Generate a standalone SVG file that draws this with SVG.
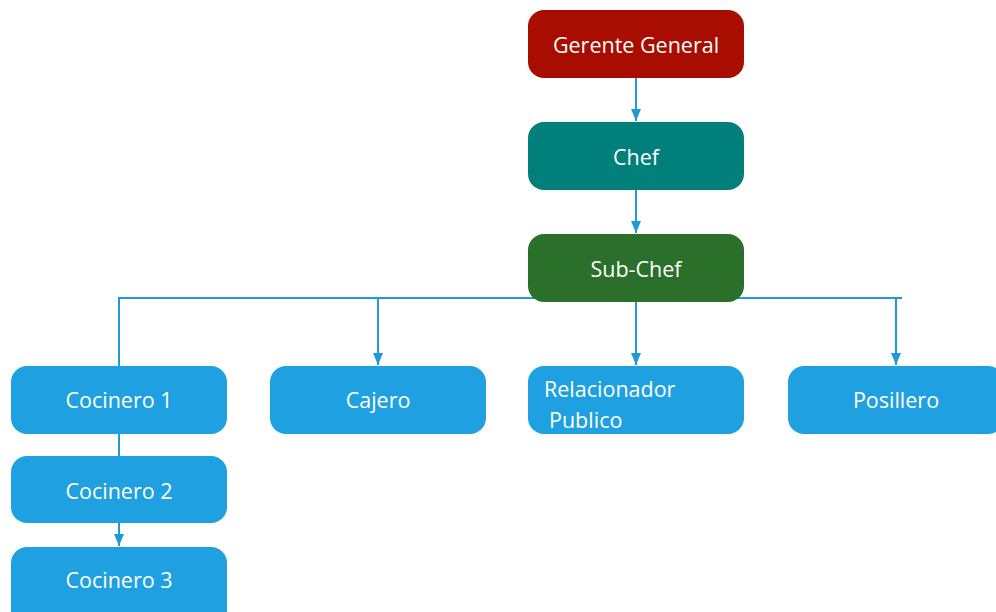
<svg xmlns="http://www.w3.org/2000/svg" width="996" height="612" viewBox="0 0 996 612">
<defs>
<style>
.box{stroke:none}
.t{font-family:"Open Sans","Noto Sans","Liberation Sans",sans-serif;font-size:21.5px;fill:#ffffff;text-anchor:middle;dominant-baseline:central}
.tl{font-family:"Open Sans","Noto Sans","Liberation Sans",sans-serif;font-size:21.5px;fill:#ffffff}
.c{stroke:#1e9ad6;stroke-width:2;fill:none}
</style>
<marker id="ah" markerWidth="12" markerHeight="12" viewBox="0 0 12 12" refX="12" refY="6" orient="auto" markerUnits="userSpaceOnUse">
<path d="M0,1 L12,6 L0,11 Z" fill="#1e9ad6"/>
</marker>
</defs>
<rect width="996" height="612" fill="#ffffff"/>
<g id="connectors">
<line class="c" x1="636" y1="78" x2="636" y2="121" marker-end="url(#ah)"/>
<line class="c" x1="636" y1="190" x2="636" y2="233" marker-end="url(#ah)"/>
<polyline class="c" points="119,366 119,298 902,298"/>
<line class="c" x1="378" y1="298" x2="378" y2="365" marker-end="url(#ah)"/>
<line class="c" x1="636" y1="302" x2="636" y2="365" marker-end="url(#ah)"/>
<line class="c" x1="896" y1="298" x2="896" y2="365" marker-end="url(#ah)"/>
<line class="c" x1="119" y1="434" x2="119" y2="456"/>
<line class="c" x1="119" y1="523" x2="119" y2="546" marker-end="url(#ah)"/>
</g>
<g id="gerente"><rect class="box" x="528" y="10" width="216" height="68" rx="16" fill="#a80d00"/><text class="t" x="636" y="44">Gerente General</text></g>
<g id="chef"><rect class="box" x="528" y="122" width="216" height="68" rx="16" fill="#017f7a"/><text class="t" x="636" y="156">Chef</text></g>
<g id="subchef"><rect class="box" x="528" y="234" width="216" height="68" rx="16" fill="#2a702a"/><text class="t" x="636" y="268">Sub-Chef</text></g>
<g id="cocinero1"><rect class="box" x="11" y="366" width="216" height="68" rx="16" fill="#1fa0e0"/><text class="t" x="119" y="399">Cocinero 1</text></g>
<g id="cajero"><rect class="box" x="270" y="366" width="216" height="68" rx="16" fill="#1fa0e0"/><text class="t" x="378" y="399">Cajero</text></g>
<g id="relacionador"><rect class="box" x="528" y="366" width="216" height="68" rx="16" fill="#1fa0e0"/><text class="tl" x="544" y="397">Relacionador</text><text class="tl" x="549" y="428">Publico</text></g>
<g id="posillero"><rect class="box" x="788" y="366" width="216" height="68" rx="16" fill="#1fa0e0"/><text class="t" x="896" y="399">Posillero</text></g>
<g id="cocinero2"><rect class="box" x="11" y="456" width="216" height="67" rx="16" fill="#1fa0e0"/><text class="t" x="119" y="490">Cocinero 2</text></g>
<g id="cocinero3"><rect class="box" x="11" y="547" width="216" height="80" rx="16" fill="#1fa0e0"/><text class="t" x="119" y="579">Cocinero 3</text></g>
</svg>
